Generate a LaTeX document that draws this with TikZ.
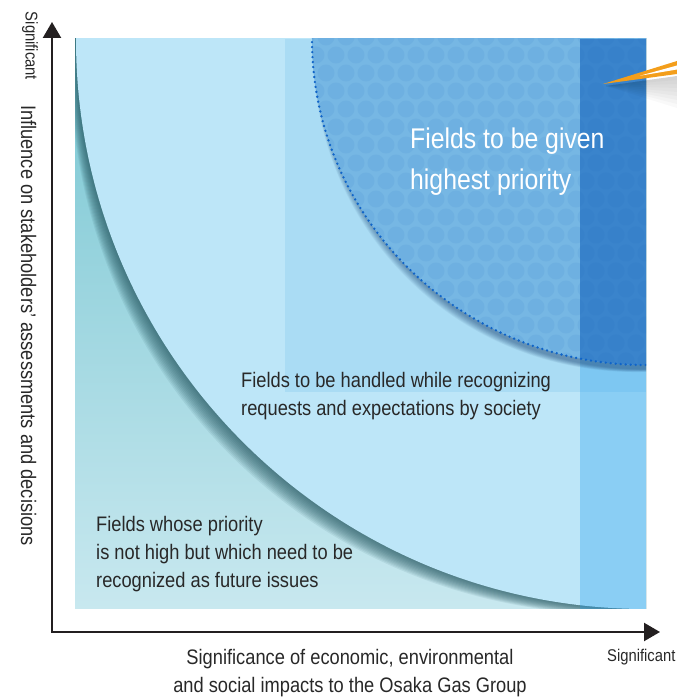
\documentclass[tikz,border=0pt]{standalone}
\usepackage{fontspec}
\setmainfont{Liberation Sans}[FakeStretch=0.87]
\usetikzlibrary{arrows.meta, positioning}
\definecolor{tealtop}{RGB}{120,198,210}
\definecolor{tealbot}{RGB}{200,232,239}
\definecolor{curlshade}{RGB}{35,85,95}
\definecolor{baseblue}{RGB}{189,230,248}
\definecolor{rectblue}{RGB}{170,220,244}
\definecolor{colblue}{RGB}{22,153,238}
\definecolor{circblue}{RGB}{118,183,228}
\definecolor{circcol}{RGB}{58,132,204}
\definecolor{dotblue}{RGB}{25,100,190}
\definecolor{rimblue}{RGB}{15,100,200}
\definecolor{circshade}{RGB}{20,60,110}
\definecolor{textgray}{RGB}{40,40,40}
\definecolor{axisgray}{RGB}{35,31,32}
\definecolor{pointer}{RGB}{243,158,27}
\tikzstyle{axis}  = [line width=2.2pt, draw=axisgray, {Triangle[length=16pt, width=18pt]}-{Triangle[length=16pt, width=18pt]}]
\tikzstyle{body}  = [inner sep=0pt, text=textgray, align=left, font=\fontsize{21}{28}\selectfont]
\tikzstyle{title} = [inner sep=0pt, text=white, align=left, font=\fontsize{28.5}{41}\selectfont]
\tikzstyle{tick}  = [inner sep=0pt, text=textgray, font=\fontsize{17}{20}\selectfont]
\tikzstyle{dot}   = [fill=dotblue, fill opacity=0.08]
\tikzstyle{rim}   = [draw=rimblue, line width=2.6pt, line cap=round, dash pattern=on 0pt off 5pt]

\begin{document}
\begin{tikzpicture}[x=1pt, y=1pt]
	\useasboundingbox (0,0) rectangle (677,697);

	% Corners
	\coordinate (plot_sw) at (75,88);
	\coordinate (plot_ne) at (646,658);
	\coordinate (corner) at (646,658);
	\coordinate (origin) at (52,65);
	\coordinate (y_tip) at (52,675);
	\coordinate (x_tip) at (660,65);

	% Fields
	\begin{scope}
		\clip (plot_sw) rectangle (plot_ne);
		\shade[top color=tealtop, bottom color=tealbot] (plot_sw) rectangle (plot_ne);
		\foreach \i in {1,...,12}
			\fill[curlshade, opacity=0.09, rotate around={45:(corner)}] (corner) ellipse ({570+1.5*\i} and {570-0.6*\i});
		\fill[baseblue] (corner) circle (570);
		\fill[rectblue] (285,305) rectangle (plot_ne);
		\fill[colblue, opacity=0.3] (580,88) rectangle (plot_ne);
		\foreach \i in {1,...,10}
			\fill[circshade, opacity=0.06, rotate around={45:(corner)}] (corner) ellipse ({330+0.8*\i} and {330-0.2*\i});
		\fill[circblue] (corner) ellipse (334 and 326);
		\begin{scope}
			\clip (corner) ellipse (334 and 326);
			\fill[circcol] (580,300) rectangle (plot_ne);
			\foreach \row in {0,...,18}{
				\pgfmathsetmacro\dy{660-18*\row}
				\pgfmathsetmacro\dx{646-10*mod(\row,2)}
				\foreach \k in {0,...,17}
					\fill[dot] (\dx-20*\k,\dy) circle (8.5);
			}
		\end{scope}
		\draw[rim] (corner) ellipse (334 and 326);
	\end{scope}

	% Pointer
	\foreach \i in {1,...,8}
		\fill[black, opacity=0.025] (606,611) -- (677,621) -- (677,{621-4*\i}) -- cycle;
	\fill[pointer] (603,613) -- (677,636) -- (677,623) -- cycle;
	\fill[white] (640,621.3) -- (677,631.5) -- (677,627.5) -- cycle;

	% Labels
	\node (top_field) [title, anchor=north west] at (410,569) {Fields to be given\\highest priority};
	\node (mid_field) [body, anchor=north west] at (241,325.3) {Fields to be handled while recognizing\\requests and expectations by society};
	\node (low_field) [body, anchor=north west] at (96,181.3) {Fields whose priority\\is not high but which need to be\\recognized as future issues};

	% Axes
	\draw[axis] (y_tip) -- (origin) -- (x_tip);
	\node (x_title) [body, align=center, anchor=north] at (350,47.5) {Significance of economic, environmental\\and social impacts to the Osaka Gas Group};
	\node (y_title) [body, rotate=-90, anchor=base] at (21,371.5) {Influence on stakeholders’ assessments and decisions};
	\node (x_sig) [tick, anchor=base west] at (607,35) {Significant};
	\node (y_sig) [tick, rotate=-90, anchor=base] at (25.5,651) {Significant};

\end{tikzpicture}
\end{document}
